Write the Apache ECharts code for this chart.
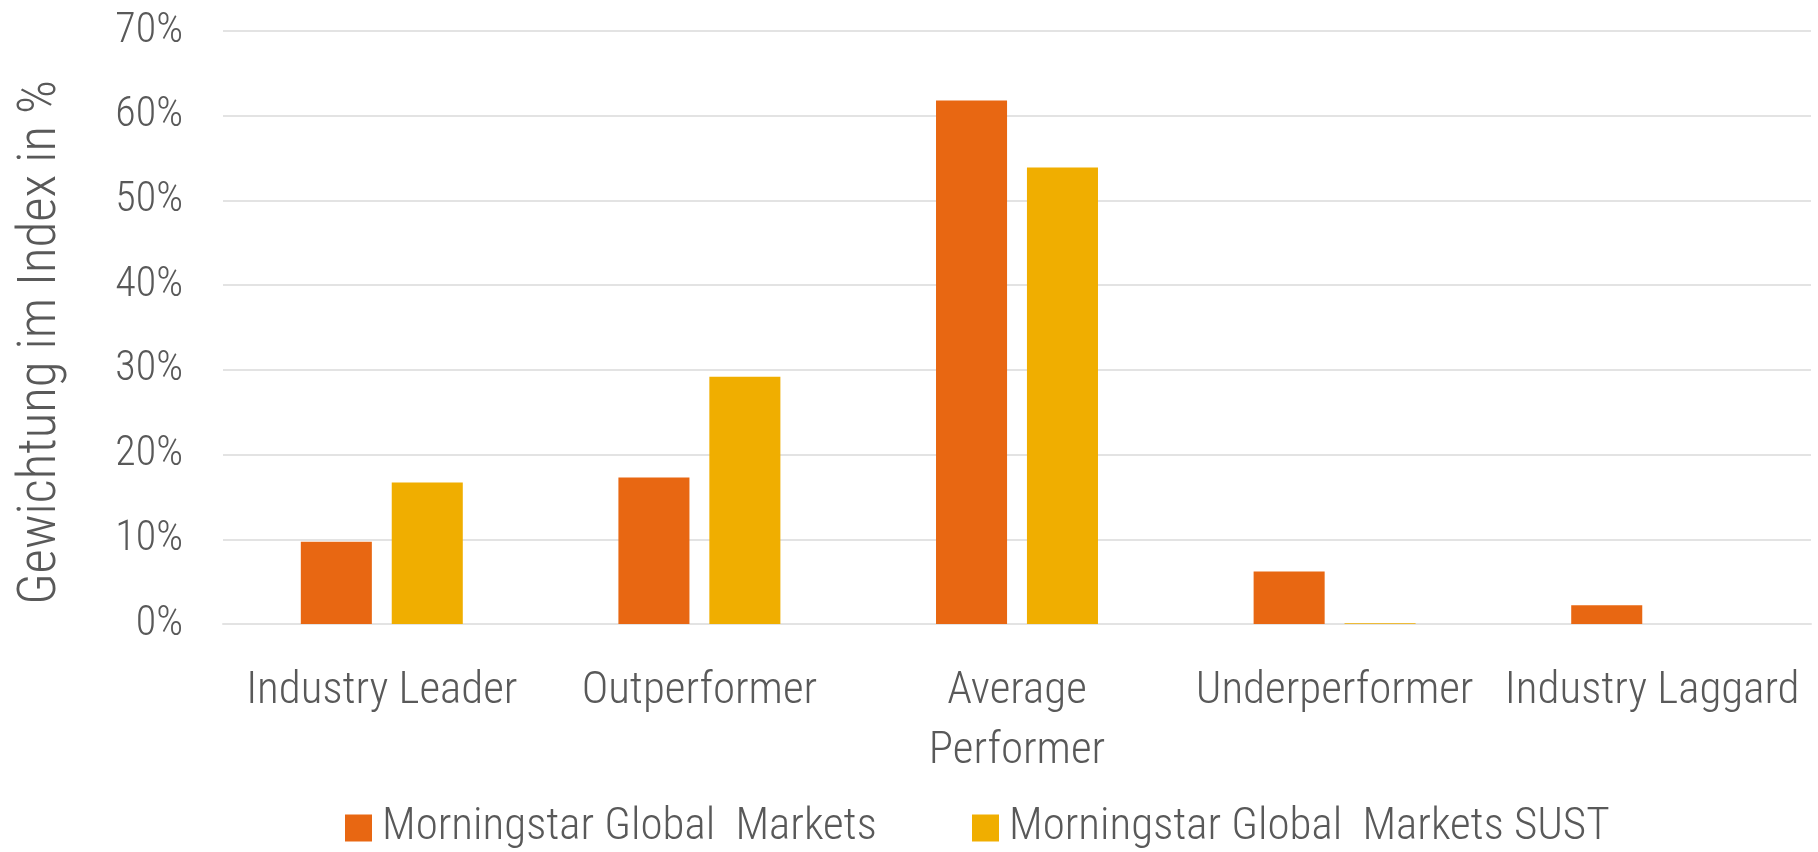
<!DOCTYPE html>
<html>
<head>
<meta charset="utf-8">
<script src="https://cdn.jsdelivr.net/npm/echarts@6/dist/echarts.min.js"></script>
<style>
html,body{margin:0;padding:0;background:#fff;}
#chart{width:1818px;height:852px;}
</style>
</head>
<body>
<div id="chart"></div>
<script>
const categories = ['Industry Leader', 'Outperformer', 'Average\nPerformer', 'Underperformer', 'Industry Laggard'];
const seriesNames = ['Morningstar Global  Markets', 'Morningstar Global  Markets SUST'];
const globalMarkets = [9.7, 17.3, 61.8, 6.2, 2.2];
const globalMarketsSust = [16.7, 29.2, 53.9, 0.1, 0];
const yTicks = [0, 10, 20, 30, 40, 50, 60, 70];
const yAxisTitle = 'Gewichtung im Index in %';

const FONT = '"Roboto Condensed", "Liberation Sans Narrow", Roboto, sans-serif';
const WEIGHT = 300;
const GRAY = '#595959';
const COLORS = ['#E86712', '#F0AE00'];

const chart = echarts.init(document.getElementById('chart'), null, {renderer: 'canvas'});
chart.setOption({
  animation: false,
  backgroundColor: '#ffffff',
  textStyle: {fontFamily: FONT, color: GRAY, fontWeight: WEIGHT},
  grid: {left: 223, right: 7, top: 31, bottom: 228, containLabel: false},
  legend: [
    {
      data: [seriesNames[0]], left: 340, top: 800, padding: 5, itemWidth: 27, itemHeight: 27,
      icon: 'rect',
      textStyle: {fontFamily: FONT, fontWeight: WEIGHT, fontSize: 45, lineHeight: 46, color: GRAY, padding: [0, 0, 0, 5]}
    },
    {
      data: [seriesNames[1]], left: 967, top: 800, padding: 5, itemWidth: 27, itemHeight: 27,
      icon: 'rect',
      textStyle: {fontFamily: FONT, fontWeight: WEIGHT, fontSize: 45, lineHeight: 46, color: GRAY, padding: [0, 0, 0, 5]}
    }
  ],
  xAxis: {
    type: 'category',
    data: categories,
    axisLine: {show: true, lineStyle: {color: '#E3E3E3', width: 2}},
    axisTick: {show: false},
    axisLabel: {fontFamily: FONT, fontWeight: WEIGHT, fontSize: 45, color: GRAY, margin: 38, lineHeight: 60, interval: 0}
  },
  yAxis: {
    type: 'value',
    min: 0, max: 70, interval: 10,
    name: yAxisTitle,
    nameLocation: 'middle',
    nameGap: 155,
    nameRotate: 90,
    nameTextStyle: {fontFamily: FONT, fontWeight: WEIGHT, fontSize: 53, color: GRAY, padding: [0, 30, 0, 0]},
    axisLabel: {
      fontFamily: FONT, fontWeight: WEIGHT, fontSize: 42, color: GRAY, margin: 40,
      formatter: v => yTicks.includes(v) ? v + '%' : ''
    },
    axisLine: {show: false},
    axisTick: {show: false},
    splitLine: {lineStyle: {color: '#E3E3E3', width: 2}}
  },
  series: [
    {
      name: seriesNames[0], type: 'bar', data: globalMarkets,
      itemStyle: {color: COLORS[0]},
      barGap: '28%', barCategoryGap: '49%'
    },
    {
      name: seriesNames[1], type: 'bar', data: globalMarketsSust,
      itemStyle: {color: COLORS[1]},
      barGap: '28%', barCategoryGap: '49%'
    }
  ]
});
</script>
</body>
</html>
